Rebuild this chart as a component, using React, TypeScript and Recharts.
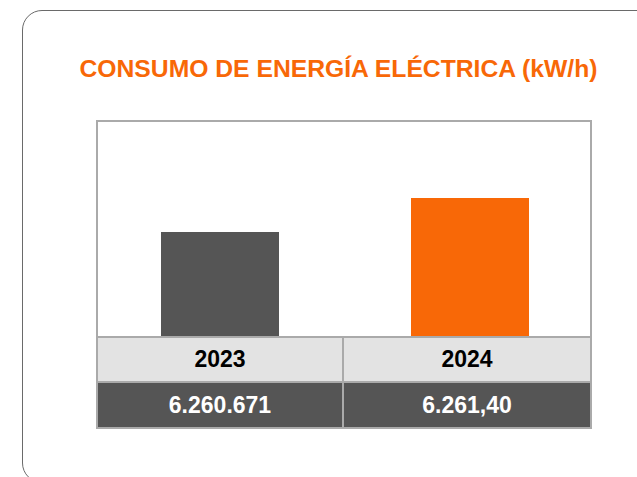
import { Bar, BarChart, Cell, XAxis, YAxis } from "recharts"

const years = ["2023", "2024"]
const barLevels = [48.6, 64.5]
const consumptionLabels = ["6.260.671", "6.261,40"]
const barColors = ["#555555", "#f86807"]

const chartData = years.map((year, i) => ({ year, level: barLevels[i] }))

const FONT = "'Liberation Sans', Arial, Helvetica, sans-serif"

export default function App() {
  return (
    <div
      style={{
        position: "absolute",
        left: 0,
        top: 0,
        width: 637,
        height: 477,
        overflow: "hidden",
        background: "#ffffff",
        fontFamily: FONT
      }}
    >
      <div
        style={{
          position: "absolute",
          left: 22,
          top: 10,
          width: 660,
          height: 473,
          border: "1.5px solid #6a6a6a",
          borderRadius: 20,
          boxSizing: "border-box"
        }}
      />
      <div
        style={{
          position: "absolute",
          left: 0,
          top: 54,
          width: 677,
          textAlign: "center",
          color: "#f86807",
          fontWeight: 700,
          fontSize: 24.7,
          lineHeight: "30px"
        }}
      >
        CONSUMO DE ENERGÍA ELÉCTRICA (kW/h)
      </div>
      <div
        style={{
          position: "absolute",
          left: 96,
          top: 120,
          width: 496,
          border: "2px solid #aaaaaa",
          boxSizing: "border-box"
        }}
      >
        <BarChart
          width={492}
          height={214}
          data={chartData}
          margin={{ top: 0, right: -5, bottom: 0, left: -3 }}
        >
          <XAxis dataKey="year" hide />
          <YAxis domain={[0, 100]} hide />
          <Bar dataKey="level" barSize={118} isAnimationActive={false}>
            {chartData.map((d, i) => (
              <Cell key={d.year} fill={barColors[i]} />
            ))}
          </Bar>
        </BarChart>
        <div style={{ display: "flex", borderTop: "2px solid #aaaaaa" }}>
          {years.map((year, i) => (
            <div
              key={year}
              style={{
                width: i === 0 ? 244 : 246,
                height: 43,
                lineHeight: "43px",
                background: "#e3e3e3",
                borderRight: i === 0 ? "2px solid #aaaaaa" : "none",
                textAlign: "center",
                fontWeight: 700,
                fontSize: 23,
                color: "#000000"
              }}
            >
              {year}
            </div>
          ))}
        </div>
        <div style={{ display: "flex", borderTop: "2px solid #aaaaaa" }}>
          {consumptionLabels.map((label, i) => (
            <div
              key={label}
              style={{
                width: i === 0 ? 244 : 246,
                height: 44,
                lineHeight: "44px",
                background: "#555555",
                borderRight: i === 0 ? "2px solid #aaaaaa" : "none",
                textAlign: "center",
                fontWeight: 700,
                fontSize: 23,
                color: "#ffffff"
              }}
            >
              {label}
            </div>
          ))}
        </div>
      </div>
    </div>
  )
}
